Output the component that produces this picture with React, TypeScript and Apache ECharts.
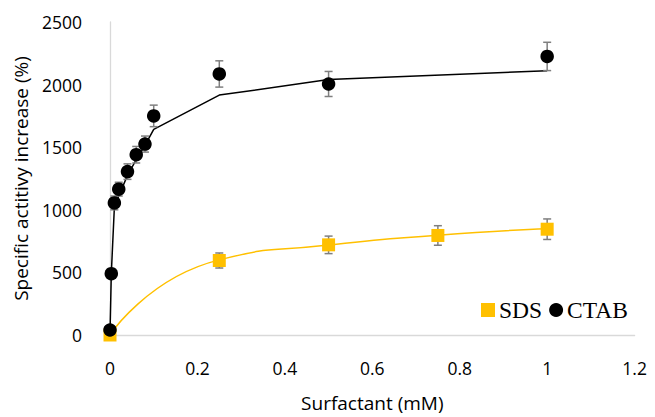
import React, { useEffect, useRef } from "react";
import * as echarts from "echarts";

const xTicks = [0, 0.2, 0.4, 0.6, 0.8, 1, 1.2];
const yTicks = [0, 500, 1000, 1500, 2000, 2500];

const sdsX = [0, 0.25, 0.5, 0.75, 1];
const sdsY = [0, 595, 720, 795, 845];
const sdsErr = [5, 60, 70, 78, 82];
const sdsFitY = [0, 600, 718, 797, 848];

const ctabX = [0, 0.003, 0.01, 0.02, 0.04, 0.06, 0.08, 0.1, 0.25, 0.5, 1];
const ctabY = [40, 490, 1055, 1165, 1305, 1440, 1525, 1750, 2085, 2005, 2225];
const ctabErr = [10, 10, 55, 55, 62, 66, 64, 86, 105, 100, 113];

const ctabFitX = [0, 0.003, 0.006, 0.01, 0.02, 0.04, 0.06, 0.08, 0.1, 0.25, 0.5, 1];
const ctabFitY = [15, 490, 720, 1020, 1110, 1275, 1400, 1515, 1643, 1916, 2040, 2111];

const SANS = "'Open Sans', 'Noto Sans', sans-serif";
const SERIF = "'Liberation Serif', 'Times New Roman', serif";

function errSeries(name: string, xs: number[], ys: number[], es: number[]) {
  return {
    type: "custom",
    name,
    silent: true,
    z: 3,
    data: xs.map((x, i) => [x, ys[i] - es[i], ys[i] + es[i]]),
    encode: { x: 0, y: [1, 2] },
    renderItem: (_p: any, api: any) => {
      const lo = api.coord([api.value(0), api.value(1)]);
      const hi = api.coord([api.value(0), api.value(2)]);
      const w = 4;
      const style = { stroke: "#7f7f7f", lineWidth: 1.5, fill: "none" };
      return {
        type: "group",
        children: [
          { type: "line", shape: { x1: lo[0], y1: lo[1], x2: hi[0], y2: hi[1] }, style },
          { type: "line", shape: { x1: lo[0] - w, y1: lo[1], x2: lo[0] + w, y2: lo[1] }, style },
          { type: "line", shape: { x1: hi[0] - w, y1: hi[1], x2: hi[0] + w, y2: hi[1] }, style },
        ],
      };
    },
  };
}

export default function App() {
  const ref = useRef<HTMLDivElement>(null);
  useEffect(() => {
    if (!ref.current) return;
    const chart = echarts.init(ref.current, undefined, { renderer: "svg" });
    chart.setOption({
      animation: false,
      backgroundColor: "#ffffff",
      grid: { left: 110, right: 20.4, top: 22, bottom: 75, containLabel: false },
      legend: {
        left: 481,
        top: 298,
        itemWidth: 14,
        itemHeight: 14,
        itemGap: 7,
        padding: 0,
        textStyle: { fontFamily: SERIF, fontSize: 23.5, color: "#000", padding: [0, 0, 0, -1] },
        data: [
          { name: "SDS", icon: "rect" },
          { name: "CTAB", icon: "circle" },
        ],
      },
      xAxis: {
        type: "value",
        min: 0,
        max: 1.2,
        interval: 0.2,
        name: "Surfactant (mM)",
        nameLocation: "middle",
        nameGap: 58,
        nameTextStyle: { fontFamily: SANS, fontSize: 19, color: "#000" },
        axisLine: { show: true, onZero: false, lineStyle: { color: "#d9d9d9", width: 1.3 } },
        axisTick: { show: false },
        splitLine: { show: false },
        axisLabel: {
          fontFamily: SANS,
          fontSize: 17.5,
          color: "#000",
          margin: 24,
          formatter: (v: number) => String(xTicks.find((t) => Math.abs(t - v) < 1e-6) ?? +v.toFixed(1)),
        },
      },
      yAxis: {
        type: "value",
        min: 0,
        max: 2500,
        interval: 500,
        name: "Specific actitivy increase (%)",
        nameLocation: "middle",
        nameGap: 80,
        nameTextStyle: { fontFamily: SANS, fontSize: 19, color: "#000" },
        axisLine: { show: true, lineStyle: { color: "#d9d9d9", width: 1.3 } },
        axisTick: { show: false },
        splitLine: { show: false },
        axisLabel: {
          fontFamily: SANS,
          fontSize: 17.5,
          color: "#000",
          margin: 28,
          formatter: (v: number) => String(yTicks.find((t) => t === v) ?? v),
        },
      },
      series: [
        {
          type: "line",
          name: "SDS fit",
          data: sdsX.map((x, i) => [x, sdsFitY[i]]),
          smooth: 0.6,
          showSymbol: false,
          symbol: "none",
          silent: true,
          z: 2,
          lineStyle: { color: "#FFC000", width: 1.5 },
        },
        {
          type: "line",
          name: "CTAB fit",
          data: ctabFitX.map((x, i) => [x, ctabFitY[i]]),
          showSymbol: false,
          symbol: "none",
          silent: true,
          z: 2,
          lineStyle: { color: "#000000", width: 1.5 },
        },
        errSeries("SDS err", sdsX, sdsY, sdsErr),
        errSeries("CTAB err", ctabX, ctabY, ctabErr),
        {
          type: "scatter",
          name: "SDS",
          data: sdsX.map((x, i) => [x, sdsY[i]]),
          symbol: "rect",
          symbolSize: 13,
          clip: false,
          z: 4,
          itemStyle: { color: "#FFC000", opacity: 1 },
        },
        {
          type: "scatter",
          name: "CTAB",
          data: ctabX.map((x, i) => [x, ctabY[i]]),
          symbol: "circle",
          symbolSize: 13.5,
          clip: false,
          z: 5,
          itemStyle: { color: "#000000", opacity: 1 },
        },
      ],
    });
    return () => chart.dispose();
  }, []);
  return (
    <div
      ref={ref}
      style={{ position: "fixed", left: 0, top: 0, width: 655, height: 417, background: "#fff" }}
    />
  );
}
